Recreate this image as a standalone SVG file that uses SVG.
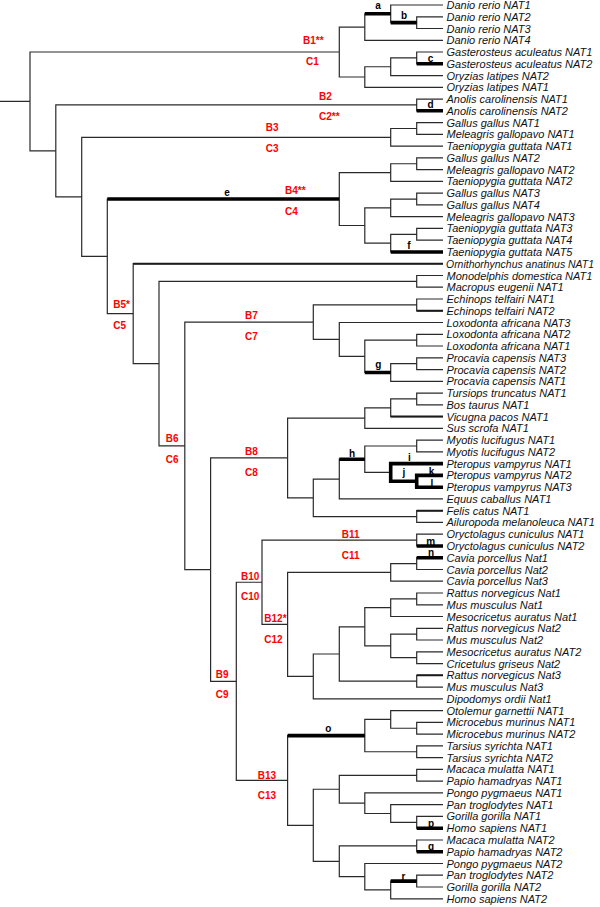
<svg xmlns="http://www.w3.org/2000/svg" width="600" height="907" viewBox="0 0 600 907">
<style>
.br{fill:none;stroke:#2a2a2a;stroke-width:1.2}
.th{fill:none;stroke:#000;stroke-width:3.6}
.md{fill:none;stroke:#1a1a1a;stroke-width:2}
.lf{font-family:"Liberation Sans",Arial,sans-serif;font-size:11px;font-style:italic;fill:#111}
.rd{font-family:"Liberation Sans",Arial,sans-serif;font-size:10px;font-weight:bold;fill:#f00}
.lt{font-family:"Liberation Sans",Arial,sans-serif;font-size:10px;font-weight:bold;fill:#000;text-anchor:middle}
</style>
<rect width="600" height="907" fill="#fff"/>
<g id="connectors">
<path class="br" d="M0 101.45H30M339.3 52H30V150.9H55.8M364.8 27.05H339.3V77H364.8M390.7 13.8H364.8V40.3H443M443 5H390.7V22.65H416.7M443 16.8H416.7V28.5H443M390.7 66.75H364.8V87.3H443M416.7 57.9H390.7V75.6H443M443 52H416.7V63.8H443"/>
<path class="br" d="M416.7 104.95H55.8V196.8H81.7M443 99.1H416.7V110.8H443M390.7 137.3H81.7V256.35H107.3M416.7 128.5H390.7V146.1H443M443 122.6H416.7V134.4H443"/>
<path class="br" d="M339.3 199.05H107.3V313.65H133.2M390.7 172.6H339.3V225.5H364.8M416.7 163.75H390.7V181.4H443M443 157.9H416.7V169.6H443M390.7 207.9H364.8V243.15H390.7M416.7 199.05H390.7V216.7H443M443 193.2H416.7V204.9H443M416.7 234.3H390.7V252H443M443 228.4H416.7V240.2H443"/>
<path class="br" d="M443 263.7H133.2V363.6H159M416.7 281.35H159V445.9H184.8M443 275.5H416.7V287.2H443M313.3 322.15H184.8V569.65H210.6M416.7 304.9H313.3V339.4H339.3M443 299H416.7V310.8H443M443 322.5H339.3V356.3H364.8M416.7 340.15H364.8V372.5H390.7M443 334.3H416.7V346H443M416.7 363.7H390.7V381.3H443M443 357.8H416.7V369.6H443"/>
<path class="br" d="M287.6 457.95H210.6V681.35H236.3M364.8 418.1H287.6V497.8H313.3M390.7 407.8H364.8V428.4H443M416.7 398.95H390.7V416.6H443M443 393.1H416.7V404.8H443M339.3 479.05H313.3V516.55H416.7M364.8 459.2H339.3V498.9H443M416.7 446H364.8V472.45H390.7M443 440.1H416.7V451.9H443M443 463.6H390.7V481.3H416.7M443 475.4H416.7V487.2H443M443 510.7H416.7V522.4H443"/>
<path class="br" d="M262 582.25H236.3V780.45H287.6M416.7 540.1H262V624.4H287.6M443 534.2H416.7V546H443M390.7 572.4H287.6V676.4H313.3M416.7 563.6H390.7V581.2H443M443 557.7H416.7V569.5H443M339.3 654H313.3V698.8H443M364.8 626.8H339.3V681.2H416.7M390.7 607.7H364.8V645.9H390.7M416.7 598.9H390.7V616.5H443M443 593H416.7V604.8H443M416.7 634.15H390.7V657.7H416.7M443 628.3H416.7V640H443M443 651.8H416.7V663.6H443M443 675.3H416.7V687.1H443"/>
<path class="br" d="M364.8 735.6H287.6V825.3H313.3M390.7 719.4H364.8V751.75H416.7M443 710.6H390.7V728.25H416.7M443 722.4H416.7V734.1H443M443 745.9H416.7V757.6H443M339.3 789.25H313.3V861.3H339.3M416.7 775.3H339.3V803.2H364.8M443 769.4H416.7V781.2H443M443 792.9H364.8V813.5H390.7M443 804.7H390.7V822.3H416.7M443 816.4H416.7V828.2H443M416.7 845.85H339.3V876.7H364.8M443 840H416.7V851.7H443M443 863.5H364.8V889.95H390.7M416.7 881.1H390.7V898.8H443M443 875.2H416.7V887H443"/>
<path class="md" d="M133.2 263.7H443M416.7 310.8H443M390.7 416.6H443M416.7 510.7H443M416.7 675.3H443"/>
<path class="th" d="M364.8 13.8H390.7M390.7 22.65H416.7M416.7 63.8H443M416.7 110.8H443M107.3 199.05H339.3M390.7 252H443M364.8 372.5H390.7M339.3 459.2H364.8M443 463.6H390.7V481.3H416.7M443 475.4H416.7V487.2H443M416.7 546H443M416.7 557.7H443M287.6 735.6H364.8M416.7 828.2H443M416.7 851.7H443M390.7 881.1H416.7"/>
</g>
<g id="branch-labels">
<text class="lt" x="378" y="8.5">a</text>
<text class="lt" x="404" y="18.5">b</text>
<text class="lt" x="430.5" y="61.5">c</text>
<text class="lt" x="430.5" y="108">d</text>
<text class="lt" x="227" y="196">e</text>
<text class="lt" x="409" y="249">f</text>
<text class="lt" x="378.3" y="367.5">g</text>
<text class="lt" x="352" y="456.5">h</text>
<text class="lt" x="409.5" y="461">i</text>
<text class="lt" x="404" y="476">j</text>
<text class="lt" x="431.5" y="474.5">k</text>
<text class="lt" x="431.8" y="487">l</text>
<text class="lt" x="430.8" y="544.5">m</text>
<text class="lt" x="431" y="556">n</text>
<text class="lt" x="328.3" y="731.5">o</text>
<text class="lt" x="431" y="826.5">p</text>
<text class="lt" x="431" y="849.5">q</text>
<text class="lt" x="403.5" y="879.5">r</text>
</g>
<g id="clade-labels">
<text class="rd" x="303" y="43.6">B1**</text>
<text class="rd" x="306" y="65.3">C1</text>
<text class="rd" x="319" y="100.3">B2</text>
<text class="rd" x="319" y="120.3">C2**</text>
<text class="rd" x="265.7" y="131.3">B3</text>
<text class="rd" x="265.7" y="151.9">C3</text>
<text class="rd" x="285" y="194.3">B4**</text>
<text class="rd" x="285" y="214.6">C4</text>
<text class="rd" x="113.3" y="307.9">B5*</text>
<text class="rd" x="113.3" y="328.6">C5</text>
<text class="rd" x="245" y="319.3">B7</text>
<text class="rd" x="245" y="339.9">C7</text>
<text class="rd" x="165.7" y="441.9">B6</text>
<text class="rd" x="165.7" y="462.9">C6</text>
<text class="rd" x="245" y="455.3">B8</text>
<text class="rd" x="245" y="476.3">C8</text>
<text class="rd" x="341.7" y="537.9">B11</text>
<text class="rd" x="341.7" y="558.6">C11</text>
<text class="rd" x="241" y="580.3">B10</text>
<text class="rd" x="241" y="600.3">C10</text>
<text class="rd" x="264.3" y="621.9">B12*</text>
<text class="rd" x="264.3" y="642.9">C12</text>
<text class="rd" x="215.7" y="677.6">B9</text>
<text class="rd" x="215.7" y="697.9">C9</text>
<text class="rd" x="257.7" y="778.6">B13</text>
<text class="rd" x="257.7" y="798.6">C13</text>
</g>
<g id="leaves" class="lf">
<g id="n0"><text x="446.5" y="9">Danio rerio NAT1</text></g>
<g id="n1"><text x="446.5" y="20.8">Danio rerio NAT2</text></g>
<g id="n2"><text x="446.5" y="32.5">Danio rerio NAT3</text></g>
<g id="n3"><text x="446.5" y="44.3">Danio rerio NAT4</text></g>
<g id="n4"><text x="446.5" y="56">Gasterosteus aculeatus NAT1</text></g>
<g id="n5"><text x="446.5" y="67.8">Gasterosteus aculeatus NAT2</text></g>
<g id="n6"><text x="446.5" y="79.6">Oryzias latipes NAT2</text></g>
<g id="n7"><text x="446.5" y="91.3">Oryzias latipes NAT1</text></g>
<g id="n8"><text x="446.5" y="103.1">Anolis carolinensis NAT1</text></g>
<g id="n9"><text x="446.5" y="114.8">Anolis carolinensis NAT2</text></g>
<g id="n10"><text x="446.5" y="126.6">Gallus gallus NAT1</text></g>
<g id="n11"><text x="446.5" y="138.4">Meleagris gallopavo NAT1</text></g>
<g id="n12"><text x="446.5" y="150.1">Taeniopygia guttata NAT1</text></g>
<g id="n13"><text x="446.5" y="161.9">Gallus gallus NAT2</text></g>
<g id="n14"><text x="446.5" y="173.6">Meleagris gallopavo NAT2</text></g>
<g id="n15"><text x="446.5" y="185.4">Taeniopygia guttata NAT2</text></g>
<g id="n16"><text x="446.5" y="197.2">Gallus gallus NAT3</text></g>
<g id="n17"><text x="446.5" y="208.9">Gallus gallus NAT4</text></g>
<g id="n18"><text x="446.5" y="220.7">Meleagris gallopavo NAT3</text></g>
<g id="n19"><text x="446.5" y="232.4">Taeniopygia guttata NAT3</text></g>
<g id="n20"><text x="446.5" y="244.2">Taeniopygia guttata NAT4</text></g>
<g id="n21"><text x="446.5" y="256">Taeniopygia guttata NAT5</text></g>
<g id="n22"><text x="446" y="267.7" textLength="148" lengthAdjust="spacingAndGlyphs">Ornithorhynchus anatinus NAT1</text></g>
<g id="n23"><text x="446.5" y="279.5">Monodelphis domestica NAT1</text></g>
<g id="n24"><text x="446.5" y="291.2">Macropus eugenii NAT1</text></g>
<g id="n25"><text x="446.5" y="303">Echinops telfairi NAT1</text></g>
<g id="n26"><text x="446.5" y="314.8">Echinops telfairi NAT2</text></g>
<g id="n27"><text x="446.5" y="326.5">Loxodonta africana NAT3</text></g>
<g id="n28"><text x="446.5" y="338.3">Loxodonta africana NAT2</text></g>
<g id="n29"><text x="446.5" y="350">Loxodonta africana NAT1</text></g>
<g id="n30"><text x="446.5" y="361.8">Procavia capensis NAT3</text></g>
<g id="n31"><text x="446.5" y="373.6">Procavia capensis NAT2</text></g>
<g id="n32"><text x="446.5" y="385.3">Procavia capensis NAT1</text></g>
<g id="n33"><text x="446.5" y="397.1">Tursiops truncatus NAT1</text></g>
<g id="n34"><text x="446.5" y="408.8">Bos taurus NAT1</text></g>
<g id="n35"><text x="446.5" y="420.6">Vicugna pacos NAT1</text></g>
<g id="n36"><text x="446.5" y="432.4">Sus scrofa NAT1</text></g>
<g id="n37"><text x="446.5" y="444.1">Myotis lucifugus NAT1</text></g>
<g id="n38"><text x="446.5" y="455.9">Myotis lucifugus NAT2</text></g>
<g id="n39"><text x="446.5" y="467.6">Pteropus vampyrus NAT1</text></g>
<g id="n40"><text x="446.5" y="479.4">Pteropus vampyrus NAT2</text></g>
<g id="n41"><text x="446.5" y="491.2">Pteropus vampyrus NAT3</text></g>
<g id="n42"><text x="446.5" y="502.9">Equus caballus NAT1</text></g>
<g id="n43"><text x="446.5" y="514.7">Felis catus NAT1</text></g>
<g id="n44"><text x="446.5" y="526.4">Ailuropoda melanoleuca NAT1</text></g>
<g id="n45"><text x="446.5" y="538.2">Oryctolagus cuniculus NAT1</text></g>
<g id="n46"><text x="446.5" y="550">Oryctolagus cuniculus NAT2</text></g>
<g id="n47"><text x="446.5" y="561.7">Cavia porcellus Nat1</text></g>
<g id="n48"><text x="446.5" y="573.5">Cavia porcellus Nat2</text></g>
<g id="n49"><text x="446.5" y="585.2">Cavia porcellus Nat3</text></g>
<g id="n50"><text x="446.5" y="597">Rattus norvegicus Nat1</text></g>
<g id="n51"><text x="446.5" y="608.8">Mus musculus Nat1</text></g>
<g id="n52"><text x="446.5" y="620.5">Mesocricetus auratus Nat1</text></g>
<g id="n53"><text x="446.5" y="632.3">Rattus norvegicus Nat2</text></g>
<g id="n54"><text x="446.5" y="644">Mus musculus Nat2</text></g>
<g id="n55"><text x="446.5" y="655.8">Mesocricetus auratus NAT2</text></g>
<g id="n56"><text x="446.5" y="667.6">Cricetulus griseus Nat2</text></g>
<g id="n57"><text x="446.5" y="679.3">Rattus norvegicus Nat3</text></g>
<g id="n58"><text x="446.5" y="691.1">Mus musculus Nat3</text></g>
<g id="n59"><text x="446.5" y="702.8">Dipodomys ordii Nat1</text></g>
<g id="n60"><text x="446.5" y="714.6">Otolemur garnettii NAT1</text></g>
<g id="n61"><text x="446.5" y="726.4">Microcebus murinus NAT1</text></g>
<g id="n62"><text x="446.5" y="738.1">Microcebus murinus NAT2</text></g>
<g id="n63"><text x="446.5" y="749.9">Tarsius syrichta NAT1</text></g>
<g id="n64"><text x="446.5" y="761.6">Tarsius syrichta NAT2</text></g>
<g id="n65"><text x="446.5" y="773.4">Macaca mulatta NAT1</text></g>
<g id="n66"><text x="446.5" y="785.2">Papio hamadryas NAT1</text></g>
<g id="n67"><text x="446.5" y="796.9">Pongo pygmaeus NAT1</text></g>
<g id="n68"><text x="446.5" y="808.7">Pan troglodytes NAT1</text></g>
<g id="n69"><text x="446.5" y="820.4">Gorilla gorilla NAT1</text></g>
<g id="n70"><text x="446.5" y="832.2">Homo sapiens NAT1</text></g>
<g id="n71"><text x="446.5" y="844">Macaca mulatta NAT2</text></g>
<g id="n72"><text x="446.5" y="855.7">Papio hamadryas NAT2</text></g>
<g id="n73"><text x="446.5" y="867.5">Pongo pygmaeus NAT2</text></g>
<g id="n74"><text x="446.5" y="879.2">Pan troglodytes NAT2</text></g>
<g id="n75"><text x="446.5" y="891">Gorilla gorilla NAT2</text></g>
<g id="n76"><text x="446.5" y="902.8">Homo sapiens NAT2</text></g>
</g>
</svg>
